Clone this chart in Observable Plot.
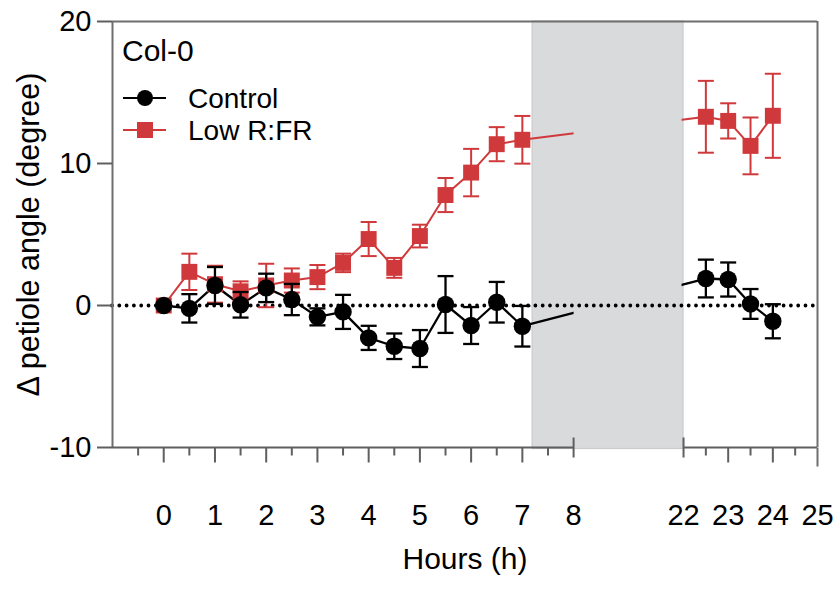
<!DOCTYPE html>
<html>
<head>
<meta charset="utf-8">
<script src="https://cdn.jsdelivr.net/npm/d3@7"></script>
<script src="https://cdn.jsdelivr.net/npm/@observablehq/plot@0.6"></script>
<style>
  html, body { margin: 0; padding: 0; background: #fff; }
  #wrap { position: relative; width: 837px; height: 590px; font-family: "Liberation Sans", Arial, Helvetica, sans-serif; }
  #legend { position: absolute; left: 0; top: 0; pointer-events: none; }
</style>
</head>
<body>
<div id="wrap"></div>
<script>
// ---- data ----
const hours = [0, 0.5, 1, 1.5, 2, 2.5, 3, 3.5, 4, 4.5, 5, 5.5, 6, 6.5, 7, 22.5, 23, 23.5, 24];
const control    = [0, -0.2, 1.41, 0.05, 1.24, 0.42, -0.8, -0.45, -2.28, -2.87, -3.03, 0.07, -1.41, 0.23, -1.46, 1.9, 1.83, 0.11, -1.11];
const controlErr = [0, 1.0, 1.3, 0.9, 1.0, 1.1, 0.6, 1.2, 0.85, 0.9, 1.3, 2.0, 1.3, 1.43, 1.43, 1.33, 1.2, 1.05, 1.2];
const lowRFR     = [0, 2.37, 1.5, 1.0, 1.41, 1.76, 2.0, 3.0, 4.68, 2.65, 4.89, 7.78, 9.36, 11.36, 11.67, 13.29, 13.0, 11.24, 13.36];
const lowRFRErr  = [0, 1.28, 1.3, 0.7, 1.53, 0.85, 0.85, 0.65, 1.2, 0.7, 0.8, 1.2, 1.67, 1.2, 1.68, 2.53, 1.24, 2.0, 2.96];

const seriesNames = ["Control", "Low R:FR"];
const majorTickLabels = [0, 1, 2, 3, 4, 5, 6, 7, 8, 22, 23, 24, 25];
const majorTicks = [0, 1, 2, 3, 4, 5, 6, 7, 23, 24];
const minorTicks = [-0.5, 0.5, 1.5, 2.5, 3.5, 4.5, 5.5, 6.5, 7.5, 22.5, 23.5, 24.5];
const breakTicks = [8, 22];
const yTicks = [20, 10, 0, -10];
const xExtent = [-1, 25];
const yDomain = [-10, 20];
const night = [7.2, 22];             // shaded interval
const title = "Col-0";
const xLabel = "Hours (h)";
const yLabel = "Δ petiole angle (degree)";

// ---- styles / layout ----
const RED = "#d0393b";
const AXIS = "#5f5f5f";
const FRAME = "#6e6e6e";
const GRAY = "#d9dadc";
const FONT = "'Liberation Sans', Arial, Helvetica, sans-serif";

const W = 837, H = 590;
const mL = 112, mR = 20, mT = 21, mB = 143;

// broken axis: the 8→22 h stretch is compressed into a short gap,
// and the second segment uses a slightly smaller hour width
const gapUnits = 2.146, lateScale = 0.8716;
function brokenAxis(h) {
  const [b0, b1] = breakTicks;
  if (h <= b0) return h;
  if (h < b1) return b0 + (h - b0) / (b1 - b0) * gapUnits;
  return b0 + gapUnits + (h - b1) * lateScale;
}

const recC = hours.map((h, i) => ({h, v: control[i], e: controlErr[i]}));
const recR = hours.map((h, i) => ({h, v: lowRFR[i], e: lowRFRErr[i]}));

const cap = {draw(ctx) { ctx.moveTo(-8, 0); ctx.lineTo(8, 0); }};
const vtick = (a, b) => ({draw(ctx) { ctx.moveTo(0, a); ctx.lineTo(0, b); }});

const plot = Plot.plot({
  width: W, height: H,
  marginLeft: mL, marginRight: mR, marginTop: mT, marginBottom: mB,
  style: {fontFamily: FONT, background: "white", color: "black"},
  x: {transform: brokenAxis, domain: xExtent.map(brokenAxis)},
  y: {domain: yDomain},
  marks: [
    // shaded period
    Plot.rect([0], {x1: night[0], x2: night[1], y1: yDomain[0], y2: yDomain[1], fill: GRAY, stroke: "#c9cacc", strokeWidth: 1.2, insetBottom: -1.5}),
    // series lines
    Plot.line(recR, {x: "h", y: "v", stroke: RED, strokeWidth: 2}),
    Plot.line(recC, {x: "h", y: "v", stroke: "black", strokeWidth: 2.3}),
    // axis-break gap hides the connecting lines
    Plot.rect([0], {x1: breakTicks[0], x2: breakTicks[1], y1: yDomain[0], y2: yDomain[1], fill: GRAY, insetRight: 1.5, insetLeft: 0.5}),
    // dotted zero line
    Plot.ruleY([0], {x1: xExtent[0], x2: xExtent[1], stroke: "black", strokeWidth: 3.8, strokeDasharray: "0 7.3", strokeLinecap: "round"}),
    // frame
    Plot.ruleY([yDomain[1]], {x1: xExtent[0], x2: xExtent[1], stroke: FRAME, strokeWidth: 2}),
    Plot.ruleX([xExtent[0]], {y1: yDomain[0], y2: yDomain[1], stroke: FRAME, strokeWidth: 2}),
    Plot.ruleX([xExtent[1]], {y1: yDomain[0], y2: yDomain[1], stroke: FRAME, strokeWidth: 2}),
    Plot.ruleY([{a: xExtent[0], b: breakTicks[0]}, {a: breakTicks[1], b: xExtent[1]}], {y: yDomain[0], x1: "a", x2: "b", stroke: AXIS, strokeWidth: 2}),
    // x ticks
    Plot.dot(majorTicks, {x: d => d, y: yDomain[0], symbol: vtick(0, 15), stroke: AXIS, strokeWidth: 2, r: 5}),
    Plot.dot([xExtent[1]], {x: d => d, y: yDomain[0], symbol: vtick(0, 19), stroke: FRAME, strokeWidth: 2, r: 5}),
    Plot.dot(minorTicks, {x: d => d, y: yDomain[0], symbol: vtick(0, 8), stroke: AXIS, strokeWidth: 2, r: 5}),
    Plot.dot(breakTicks, {x: d => d, y: yDomain[0], symbol: vtick(-10, 10), stroke: AXIS, strokeWidth: 2, r: 5}),
    Plot.axisX(majorTickLabels, {tickSize: 0, tickPadding: 57, fontSize: 29, label: null, tickFormat: d => String(d)}),
    // y axis
    Plot.axisY(yTicks, {tickSize: 15, tickPadding: 6, fontSize: 29, label: null, stroke: AXIS, strokeWidth: 2, tickFormat: d => String(d)}),
    // error bars + markers: Low R:FR
    Plot.ruleX(recR, {x: "h", y1: d => d.v - d.e, y2: d => d.v + d.e, stroke: RED, strokeWidth: 2}),
    Plot.dot(recR, {x: "h", y: d => d.v + d.e, symbol: cap, stroke: RED, strokeWidth: 2, r: 5}),
    Plot.dot(recR, {x: "h", y: d => d.v - d.e, symbol: cap, stroke: RED, strokeWidth: 2, r: 5}),
    Plot.dot(recR, {x: "h", y: "v", symbol: "square", r: 9, fill: RED, stroke: "none"}),
    // error bars + markers: Control
    Plot.ruleX(recC, {x: "h", y1: d => d.v - d.e, y2: d => d.v + d.e, stroke: "black", strokeWidth: 2.3}),
    Plot.dot(recC, {x: "h", y: d => d.v + d.e, symbol: cap, stroke: "black", strokeWidth: 2.3, r: 5}),
    Plot.dot(recC, {x: "h", y: d => d.v - d.e, symbol: cap, stroke: "black", strokeWidth: 2.3, r: 5}),
    Plot.dot(recC, {x: "h", y: "v", r: 8.7, fill: "black", stroke: "none"}),
    // axis titles
    Plot.text([xLabel], {frameAnchor: "bottom", dy: 121, fontSize: 30, fill: "black"}),
    Plot.text([yLabel], {frameAnchor: "left", textAnchor: "middle", rotate: -90, dx: -83, fontSize: 30.5, fill: "black"})
  ]
});

const wrap = document.getElementById("wrap");
wrap.appendChild(plot);

// ---- legend overlay ----
const lg = d3.select(wrap).append("svg").attr("id", "legend").attr("width", W).attr("height", H);
lg.append("text").attr("x", 122).attr("y", 61).attr("font-size", 30).attr("font-family", FONT).text(title);
const rows = [{name: seriesNames[0], color: "black", shape: "circle", y: 98},
              {name: seriesNames[1], color: RED, shape: "square", y: 130}];
rows.forEach(r => {
  lg.append("line").attr("x1", 123).attr("x2", 166).attr("y1", r.y).attr("y2", r.y)
    .attr("stroke", r.color).attr("stroke-width", 2);
  if (r.shape === "circle") lg.append("circle").attr("cx", 145).attr("cy", r.y).attr("r", 8).attr("fill", r.color);
  else lg.append("rect").attr("x", 137).attr("y", r.y - 8).attr("width", 16).attr("height", 16).attr("fill", r.color);
  lg.append("text").attr("x", 188).attr("y", r.y + 10).attr("font-size", 28).attr("font-family", FONT).text(r.name);
});
</script>
</body>
</html>
